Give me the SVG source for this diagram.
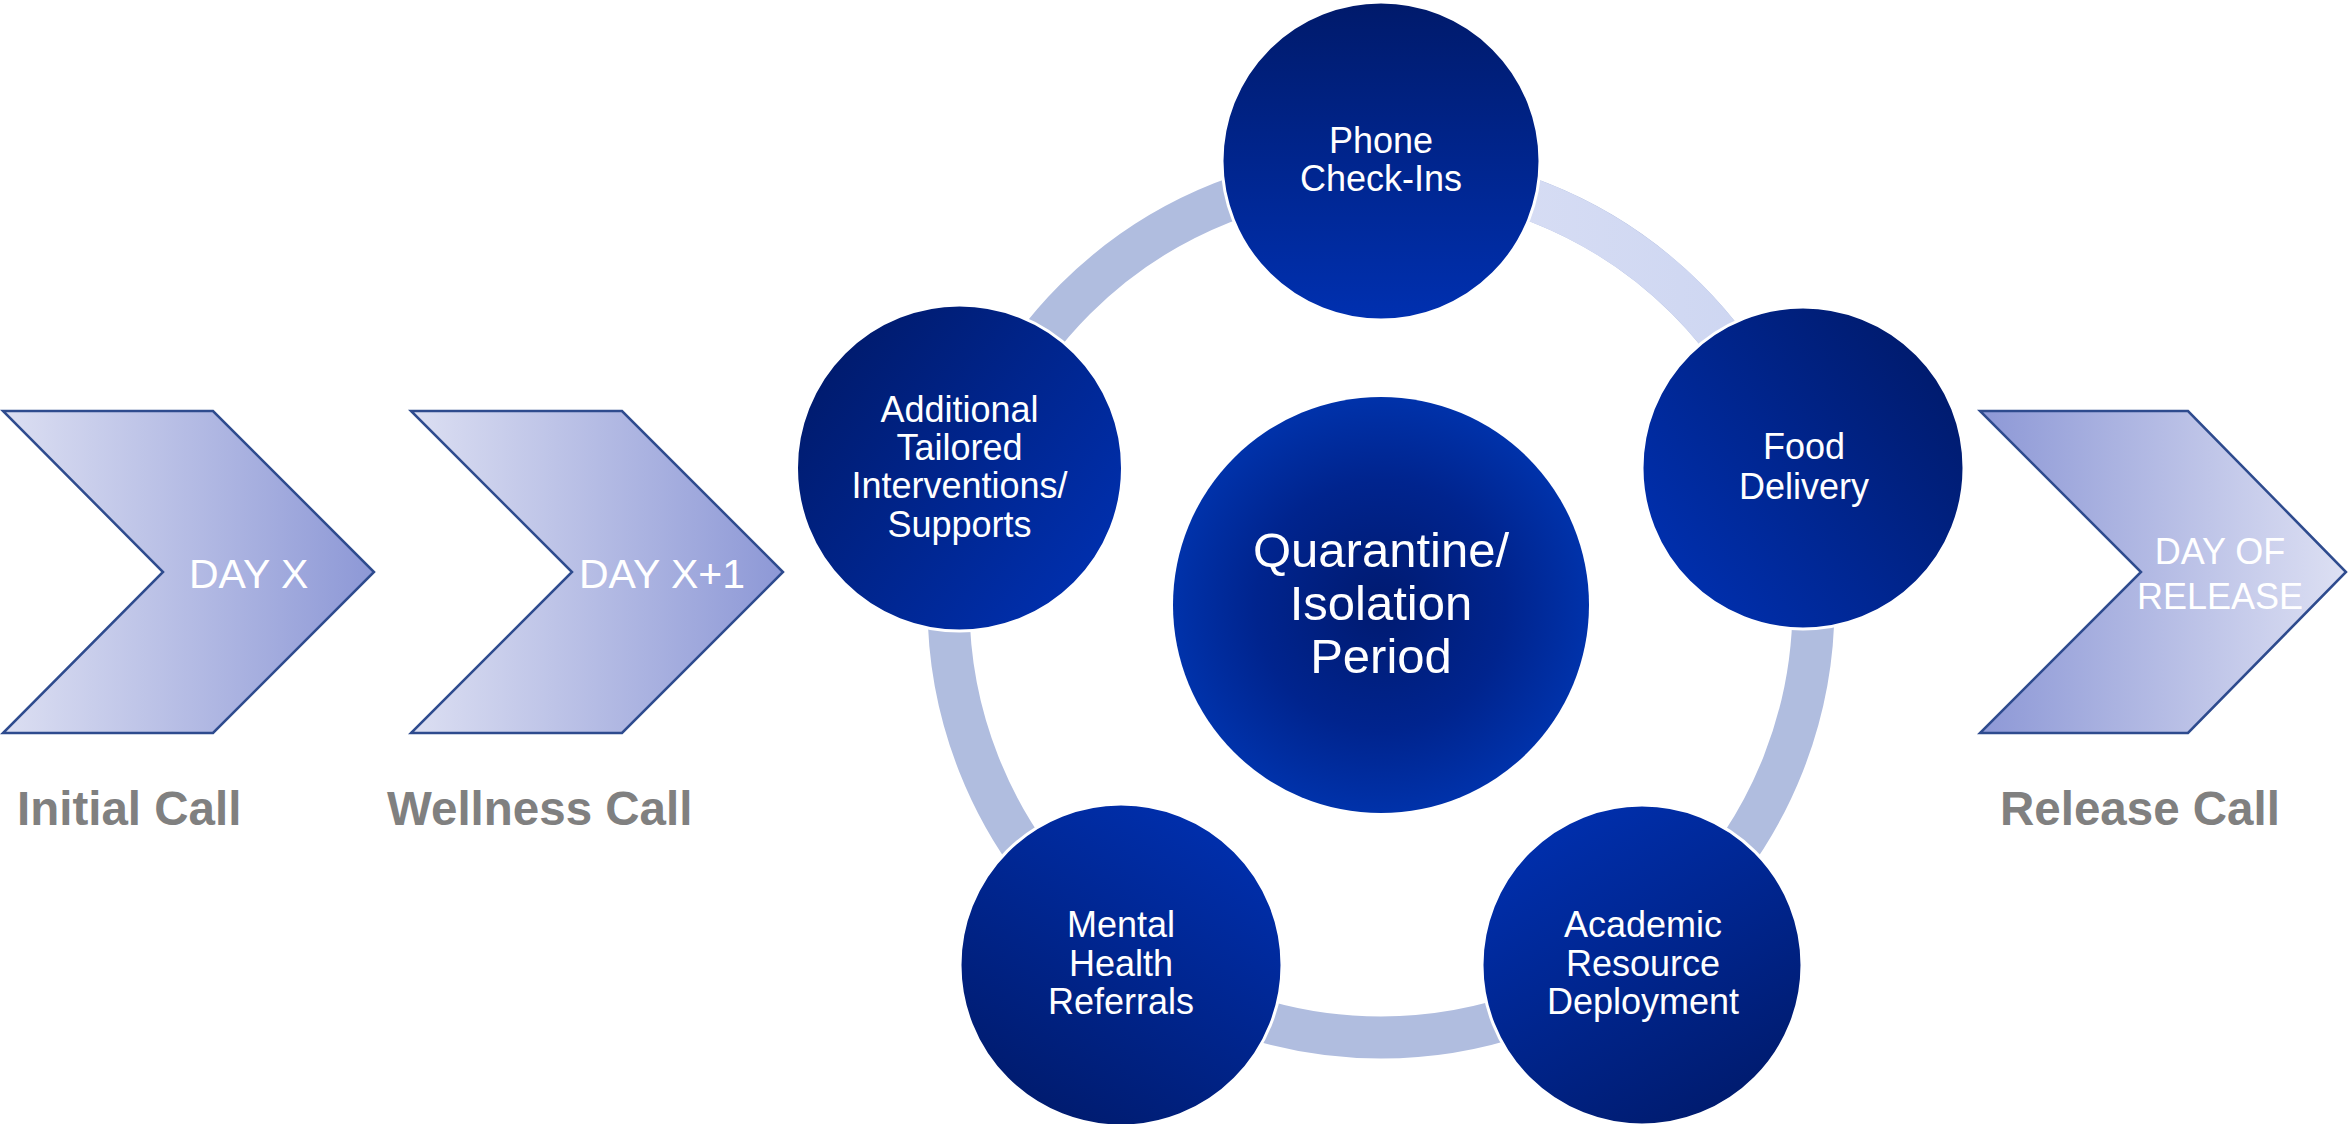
<svg xmlns="http://www.w3.org/2000/svg" width="2348" height="1124" viewBox="0 0 2348 1124">
<style>
.chev{stroke:#2e4b8e;stroke-width:2.5;stroke-linejoin:miter}
.daytxt{font-family:"Liberation Sans",Arial,sans-serif;fill:#ffffff;font-size:41px}
.reltxt{font-family:"Liberation Sans",Arial,sans-serif;fill:#ffffff;font-size:36px;text-anchor:middle}
.lbl{font-family:"Liberation Sans",Arial,sans-serif;fill:#808080;font-size:47.5px;font-weight:bold}
.node{stroke:#ffffff;stroke-width:3}
.ntxt{font-family:"Liberation Sans",Arial,sans-serif;fill:#ffffff;font-size:36px;text-anchor:middle}
.ctxt{font-family:"Liberation Sans",Arial,sans-serif;fill:#ffffff;font-size:49px;text-anchor:middle}
</style>
<defs>
<linearGradient id="gL" x1="0" y1="0" x2="1" y2="0">
<stop offset="0" stop-color="#dcdff2"/><stop offset="1" stop-color="#8d98d6"/>
</linearGradient>
<linearGradient id="gR" x1="0" y1="0" x2="1" y2="0">
<stop offset="0" stop-color="#8d98d6"/><stop offset="1" stop-color="#dde0f3"/>
</linearGradient>
<linearGradient id="gPhone" x1="0.5" y1="0" x2="0.5" y2="1">
<stop offset="0" stop-color="#001a6b"/><stop offset="1" stop-color="#0030b0"/>
</linearGradient>
<linearGradient id="gAdd" x1="0.05" y1="0.15" x2="0.95" y2="0.85">
<stop offset="0" stop-color="#001a6b"/><stop offset="1" stop-color="#0030b0"/>
</linearGradient>
<linearGradient id="gFood" x1="0.95" y1="0.15" x2="0.05" y2="0.85">
<stop offset="0" stop-color="#001a6b"/><stop offset="1" stop-color="#0030b0"/>
</linearGradient>
<linearGradient id="gMent" x1="0.2" y1="1" x2="0.8" y2="0">
<stop offset="0" stop-color="#001a6b"/><stop offset="1" stop-color="#0030b0"/>
</linearGradient>
<linearGradient id="gAcad" x1="0.8" y1="1" x2="0.2" y2="0">
<stop offset="0" stop-color="#001a6b"/><stop offset="1" stop-color="#0030b0"/>
</linearGradient>
<radialGradient id="gCenter" cx="0.5" cy="0.5" r="0.5">
<stop offset="0" stop-color="#001a70"/><stop offset="0.6" stop-color="#00248e"/><stop offset="1" stop-color="#0032aa"/>
</radialGradient>
<linearGradient id="gArc" x1="0" y1="0" x2="1" y2="0">
<stop offset="0" stop-color="#dbe0f5"/><stop offset="1" stop-color="#ccd5f1"/>
</linearGradient>
</defs>

<g id="connectors">
<circle cx="1381" cy="605" r="432.5" fill="none" stroke="#b0bddf" stroke-width="42"/>
<path d="M1381 172.5 A432.5 432.5 0 0 1 1792.3 471.4" fill="none" stroke="url(#gArc)" stroke-width="42"/>
</g>

<g id="chevron-day-x">
<polygon class="chev" fill="url(#gL)" points="3,411 213,411 374,572 213,733 3,733 163,572"/>
<text class="daytxt" x="189" y="588">DAY X</text>
<text class="lbl" x="17" y="825">Initial Call</text>
</g>
<g id="chevron-day-x1">
<polygon class="chev" fill="url(#gL)" points="411,411 622,411 783,572 622,733 411,733 572,572"/>
<text class="daytxt" x="579" y="588">DAY X+1</text>
<text class="lbl" x="387" y="825">Wellness Call</text>
</g>
<g id="chevron-release">
<polygon class="chev" fill="url(#gR)" points="1980,411 2188,411 2346,572 2188,733 1980,733 2141,572"/>
<text class="reltxt" x="2220" y="564">DAY OF</text>
<text class="reltxt" x="2220" y="609">RELEASE</text>
<text class="lbl" x="2000" y="825">Release Call</text>
</g>

<g id="node-center">
<circle cx="1381" cy="605" r="208" fill="url(#gCenter)"/>
<text class="ctxt" x="1381" y="567">Quarantine/</text>
<text class="ctxt" x="1381" y="620">Isolation</text>
<text class="ctxt" x="1381" y="673">Period</text>
</g>
<g id="node-phone">
<circle class="node" cx="1381" cy="161" r="159" fill="url(#gPhone)"/>
<text class="ntxt" x="1381" y="153">Phone</text>
<text class="ntxt" x="1381" y="191">Check-Ins</text>
</g>
<g id="node-food">
<circle class="node" cx="1803" cy="468" r="161" fill="url(#gFood)"/>
<text class="ntxt" x="1804" y="459">Food</text>
<text class="ntxt" x="1804" y="499">Delivery</text>
</g>
<g id="node-academic">
<circle class="node" cx="1642" cy="965" r="160" fill="url(#gAcad)"/>
<text class="ntxt" x="1643" y="937">Academic</text>
<text class="ntxt" x="1643" y="976">Resource</text>
<text class="ntxt" x="1643" y="1014">Deployment</text>
</g>
<g id="node-mental">
<circle class="node" cx="1121" cy="965" r="161" fill="url(#gMent)"/>
<text class="ntxt" x="1121" y="937">Mental</text>
<text class="ntxt" x="1121" y="976">Health</text>
<text class="ntxt" x="1121" y="1014">Referrals</text>
</g>
<g id="node-additional">
<circle class="node" cx="959.5" cy="468" r="163" fill="url(#gAdd)"/>
<text class="ntxt" x="959.5" y="422">Additional</text>
<text class="ntxt" x="959.5" y="460">Tailored</text>
<text class="ntxt" x="959.5" y="498">Interventions/</text>
<text class="ntxt" x="959.5" y="537">Supports</text>
</g>
</svg>
